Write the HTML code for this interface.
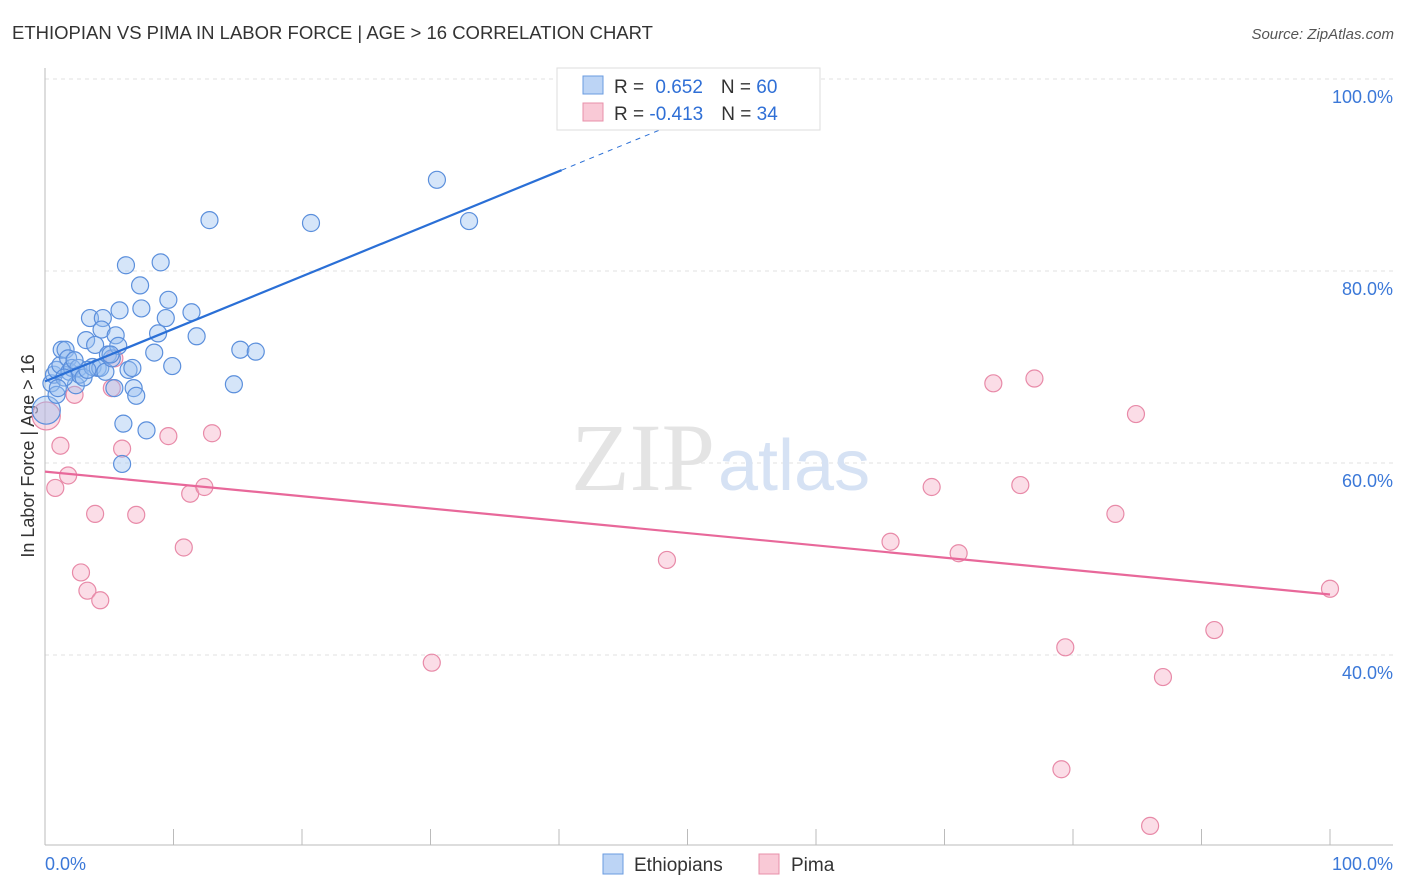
<!DOCTYPE html>
<html><head><meta charset="utf-8"><style>
body{margin:0;background:#fff;font-family:"Liberation Sans",sans-serif}
svg{display:block}
</style></head><body>
<svg width="1406" height="892">
<text x="12" y="39" font-size="18.5" fill="#333">ETHIOPIAN VS PIMA IN LABOR FORCE | AGE &gt; 16 CORRELATION CHART</text>
<text x="1394" y="39" font-size="15" fill="#555" font-style="italic" text-anchor="end">Source: ZipAtlas.com</text>
<g id="grid"></g>
<text x="715" y="490" font-size="96" fill="#e4e4e4" text-anchor="end" font-family="Liberation Serif,serif">ZIP</text>
<text x="718" y="490" font-size="72" fill="#d6e2f4">atlas</text>
<line x1="45" y1="68" x2="45" y2="845" stroke="#bbb"/>
<line x1="45" y1="845" x2="1393" y2="845" stroke="#bbb"/>
<text x="34" y="456" font-size="18" fill="#333" transform="rotate(-90 34 456)" text-anchor="middle">In Labor Force | Age &gt; 16</text>
<text x="45" y="870" font-size="18" fill="#3b78d8">0.0%</text>
<text x="1393" y="870" font-size="18" fill="#3b78d8" text-anchor="end">100.0%</text>
<g id="marks"></g>
<g>
<rect x="557" y="68" width="263" height="62" fill="#fff" stroke="#ddd"/>
<rect x="583" y="76" width="20" height="18" fill="#bcd4f5" stroke="#6a9be0"/>
<rect x="583" y="103" width="20" height="18" fill="#f9c9d6" stroke="#e890aa"/>
<text x="614" y="93" font-size="19" fill="#333">R = <tspan fill="#2f6fd6" dx="6">0.652</tspan><tspan dx="18">N = </tspan><tspan fill="#2f6fd6">60</tspan></text>
<text x="614" y="120" font-size="19" fill="#333">R = <tspan fill="#2f6fd6">-0.413</tspan><tspan dx="18">N = </tspan><tspan fill="#2f6fd6">34</tspan></text>
</g>
<g>
<rect x="603" y="854" width="20" height="20" fill="#bcd4f5" stroke="#6a9be0"/>
<text x="634" y="871" font-size="19" fill="#333">Ethiopians</text>
<rect x="759" y="854" width="20" height="20" fill="#f9c9d6" stroke="#e890aa"/>
<text x="791" y="871" font-size="19" fill="#333">Pima</text>
</g>
</svg>
<script>
const yTicks=[40,60,80,100];
const xTicks=[0,10,20,30,40,50,60,70,80,90,100];
const blueX=[0.1,0.5,0.7,0.9,1.2,1.3,1.6,1.8,1.9,2.1,2.4,2.6,2.7,3.0,3.2,3.5,3.7,3.9,4.1,4.3,4.5,4.4,4.7,4.9,5.2,5.5,5.4,5.7,5.8,6.0,6.1,6.3,6.5,6.8,6.9,7.1,7.4,7.5,7.9,8.5,8.8,9.0,9.4,9.6,9.9,11.4,11.8,12.8,14.7,15.2,16.4,20.7,30.5,33.0,0.9,1.5,3.3,5.1,1.0,2.3];
const blueY=[65.5,68.3,69.2,69.7,70.2,71.8,71.8,70.9,69.5,69.9,68.1,69.9,69.2,68.9,72.8,75.1,70.0,72.3,69.9,69.9,75.1,73.9,69.5,71.3,70.9,73.3,67.8,72.2,75.9,59.9,64.1,80.6,69.7,69.9,67.8,67.0,78.5,76.1,63.4,71.5,73.5,80.9,75.1,77.0,70.1,75.7,73.2,85.3,68.2,71.8,71.6,85.0,89.5,85.2,67.1,68.9,69.7,71.3,67.8,70.7];
const pinkX=[0.1,0.8,1.2,1.8,2.3,2.8,3.3,3.9,4.3,5.2,5.4,6.0,7.1,9.6,10.8,11.3,12.4,13.0,30.1,48.4,65.8,69.0,71.1,73.8,75.9,77.0,79.1,79.4,83.3,84.9,86.0,87.0,91.0,100.0];
const pinkY=[64.9,57.4,61.8,58.7,67.1,48.6,46.7,54.7,45.7,67.8,70.9,61.5,54.6,62.8,51.2,56.8,57.5,63.1,39.2,49.9,51.8,57.5,50.6,68.3,57.7,68.8,28.1,40.8,54.7,65.1,22.2,37.7,42.6,46.9];
const X=v=>45+v*12.85, Y=v=>79+(100-v)*9.6;
const NS='http://www.w3.org/2000/svg';
const grid=document.getElementById('grid'),marks=document.getElementById('marks');
function mk(tag,at,parent){const e=document.createElementNS(NS,tag);for(const k in at)e.setAttribute(k,at[k]);parent.appendChild(e);return e;}
yTicks.forEach(t=>{
const l=mk('line',{x1:45,x2:1393,y1:Y(t),y2:Y(t),stroke:'#e2e2e2','stroke-dasharray':'4,4'},grid);


const tx=mk('text',{x:1393,y:Y(t)+24,'font-size':18,fill:'#3b78d8','text-anchor':'end'},grid);
tx.textContent=t.toFixed(1)+'%';


});
xTicks.forEach(t=>{
const l=mk('line',{x1:X(t),x2:X(t),y1:829,y2:845,stroke:'#bbb'},grid);


});
pinkX.forEach((x,i)=>{
const c=mk('circle',{cx:X(x),cy:Y(pinkY[i]),r:i===0?14:8.5,fill:'rgba(246,170,195,0.4)',stroke:'#e88aa8','stroke-width':1.2},marks);


});
blueX.forEach((x,i)=>{
const c=mk('circle',{cx:X(x),cy:Y(blueY[i]),r:i===0?14:8.5,fill:'rgba(150,190,240,0.4)',stroke:'#5b8fdc','stroke-width':1.2},marks);


});
let l=mk('line',{x1:X(0),y1:Y(68.5),x2:X(40.2),y2:Y(90.5),stroke:'#2a6fd6','stroke-width':2.2},marks);


l=mk('line',{x1:X(40.2),y1:Y(90.5),x2:X(49.5),y2:Y(95.6),stroke:'#2a6fd6','stroke-width':1,'stroke-dasharray':'5,5'},marks);


l=mk('line',{x1:X(0),y1:Y(59.1),x2:X(100),y2:Y(46.3),stroke:'#e8689a','stroke-width':2.2},marks);


</script>
</body></html>
